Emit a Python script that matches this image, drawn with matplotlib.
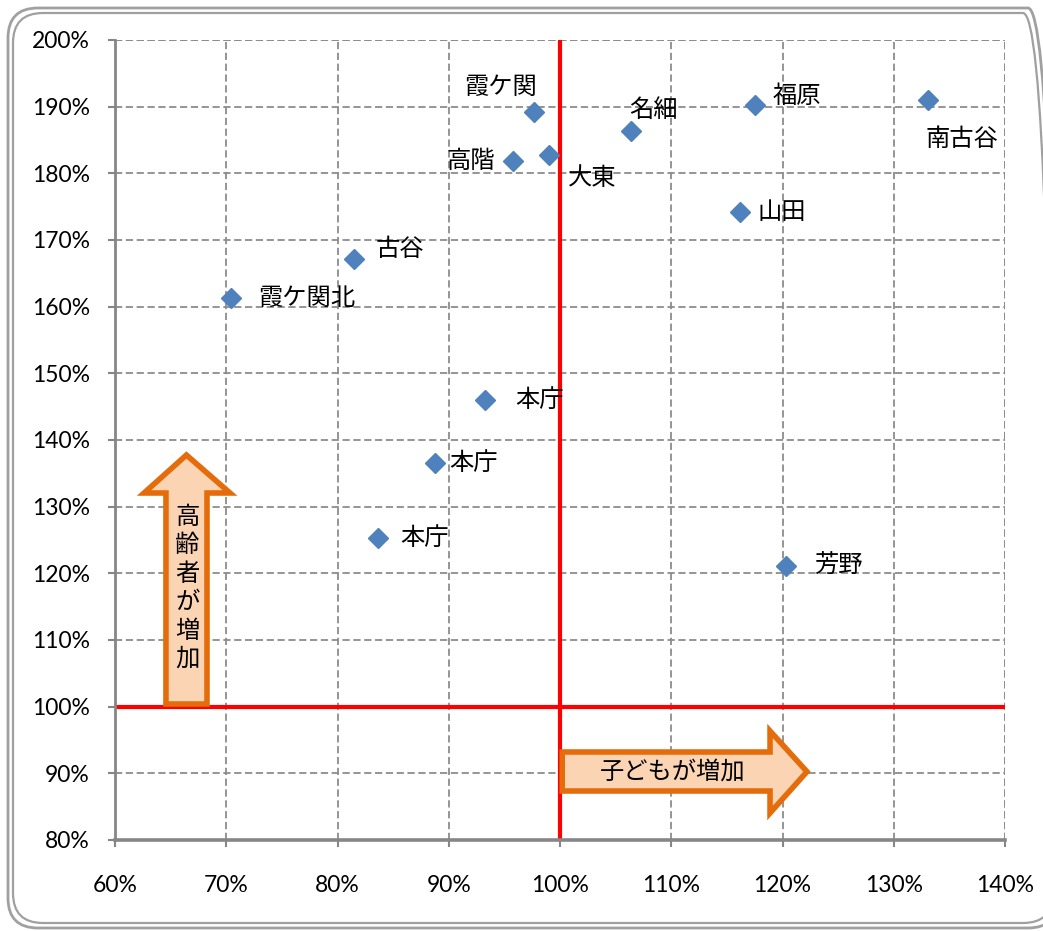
import matplotlib.pyplot as plt
from matplotlib.patches import Polygon, FancyBboxPatch
from matplotlib.transforms import IdentityTransform
from matplotlib.ticker import MultipleLocator, FuncFormatter

plt.rcParams['font.family'] = ['Noto Sans CJK JP', 'DejaVu Sans']

# 子ども増加率 (x) と 高齢者増加率 (y), %
names = ['霞ケ関北', '古谷', '霞ケ関', '高階', '大東', '名細', '福原',
         '南古谷', '山田', '本庁', '本庁', '本庁', '芳野']
child = [70.4, 81.5, 97.7, 95.8, 99.0, 106.4, 117.5,
         133.1, 116.2, 93.3, 88.8, 83.6, 120.3]
elder = [161.3, 167.2, 189.2, 181.9, 182.7, 186.3, 190.2,
         191.0, 174.2, 146.0, 136.5, 125.3, 121.1]

# label offsets in pixels and alignment
label_pos = [(27, 0, 'left'), (21, 10, 'left'), (-34, 25, 'center'),
             (-18, 0, 'right'), (19, -23, 'left'), (-2, 21, 'left'),
             (18, 9, 'left'), (34, -39, 'center'), (17, 0, 'left'),
             (30, 0, 'left'), (14, 0, 'left'), (23, 0, 'left'),
             (28, 0, 'left')]

fig = plt.figure(figsize=(10.43, 9.31), dpi=100)
ax = fig.add_axes([115 / 1043, 1 - 840 / 931, 890 / 1043, 800 / 931])

ax.set_xlim(60, 140)
ax.set_ylim(80, 200)
ax.xaxis.set_major_locator(MultipleLocator(10))
ax.yaxis.set_major_locator(MultipleLocator(10))
pct = FuncFormatter(lambda v, p: f'{v:.0f}%')
ax.xaxis.set_major_formatter(pct)
ax.yaxis.set_major_formatter(pct)
ax.tick_params(axis='both', labelsize=16.5, colors='#868686', labelcolor='black',
               length=5, width=1.5)
ax.tick_params(axis='y', pad=13)
ax.tick_params(axis='x', pad=20)
for lab in ax.get_xticklabels() + ax.get_yticklabels():
    lab.set_family(['Lato', 'DejaVu Sans'])

ax.grid(True, color='#8c8c8c', linestyle=(0, (4, 2)), linewidth=1.3)
ax.set_axisbelow(True)
for s in ['top', 'right']:
    ax.spines[s].set_visible(False)
ax.spines['left'].set_color('#868686')
ax.spines['left'].set_linewidth(2)
ax.spines['bottom'].set_color('#868686')
ax.spines['bottom'].set_linewidth(2.6)
# dashed lines at the top and right edges
ax.axhline(200, color='#8c8c8c', linestyle=(0, (4, 2)), linewidth=1.3, zorder=0.5)
ax.axvline(140, color='#8c8c8c', linestyle=(0, (4, 2)), linewidth=1.3, zorder=0.5)

# 100% reference lines
ax.axvline(100, color='red', linewidth=3, zorder=2)
ax.axhline(100, color='red', linewidth=3, zorder=2)

# arrows
up = Polygon([(64.58, 100.4), (68.27, 100.4), (68.27, 132.05), (70.34, 132.05),
              (66.42, 137.75), (62.61, 132.05), (64.58, 132.05)], closed=True,
             facecolor='#FBD4B4', edgecolor='#E46C0A', linewidth=4,
             joinstyle='miter', zorder=3)
ax.add_patch(up)
right = Polygon([(100.2, 93.2), (118.88, 93.2), (118.88, 96.35), (122.2, 90.25),
                 (118.88, 84.05), (118.88, 87.35), (100.2, 87.35)], closed=True,
                facecolor='#FBD4B4', edgecolor='#E46C0A', linewidth=4,
                joinstyle='miter', zorder=3)
ax.add_patch(right)
ax.text(66.5, 117.8, '\n'.join('高齢者が増加'), ha='center', va='center',
        fontsize=17.5, linespacing=1.12, zorder=4)
ax.text(110.1, 90.2, '子どもが増加', ha='center', va='center',
        fontsize=17.5, zorder=4)

ax.plot(child, elder, linestyle='none', marker='D', markersize=10.5,
        color='#4F81BD', zorder=5)
for n, x, y, (dx, dy, ha) in zip(names, child, elder, label_pos):
    ax.annotate(n, (x, y), xytext=(dx, dy), textcoords='offset pixels',
                ha=ha, va='center', fontsize=17.5, zorder=6)

# rounded double frame around the chart
for inset, lw in [(0, 2.0), (5, 1.6)]:
    box = FancyBboxPatch((8 + inset, 3 + inset), 1050 - 2 * inset, 920 - 2 * inset,
                         boxstyle='round,pad=0,rounding_size=30',
                         transform=IdentityTransform(), facecolor='none',
                         edgecolor='#a0a0a0', linewidth=lw)
    fig.patches.append(box)

fig.savefig('out.png', dpi=100)
